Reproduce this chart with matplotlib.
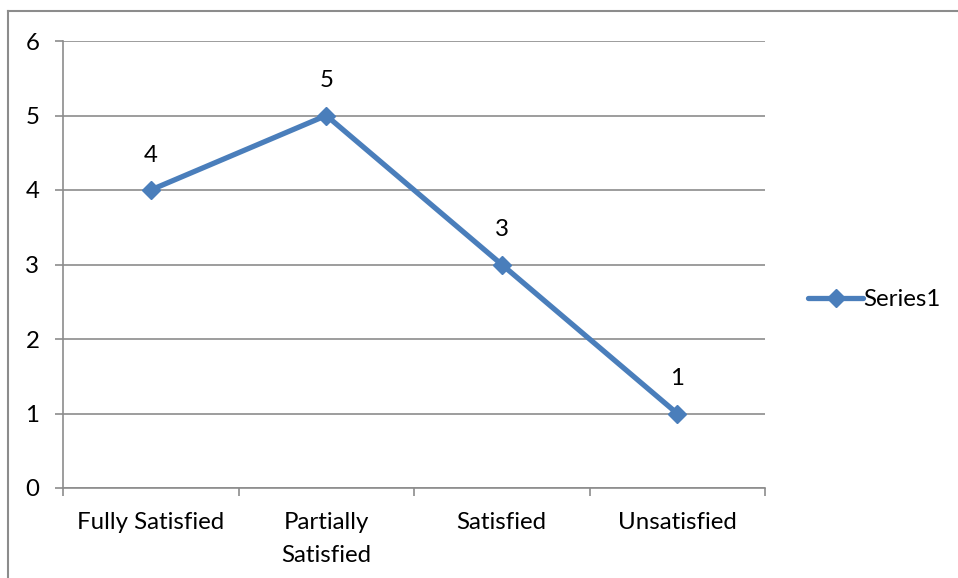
import matplotlib
matplotlib.use("Agg")
import matplotlib.pyplot as plt
from matplotlib.lines import Line2D

categories = ["Fully Satisfied", "Partially\nSatisfied", "Satisfied", "Unsatisfied"]
values = [4, 5, 3, 1]
series_name = "Series1"
y_ticks = [0, 1, 2, 3, 4, 5, 6]

plt.rcParams['font.family'] = ['Lato', 'DejaVu Sans']
FS = 17.3

W, H = 958, 578
fig = plt.figure(figsize=(W / 100, H / 100), dpi=100)

# outer chart frame (only the top and left edges fall inside the image)
frame_col = "#8c8c8c"
fig.add_artist(Line2D([8 / W, 8 / W], [0, 1 - 11 / H], color=frame_col, lw=1.5,
                      transform=fig.transFigure))
fig.add_artist(Line2D([8 / W, 1], [1 - 11 / H, 1 - 11 / H], color=frame_col, lw=1.5,
                      transform=fig.transFigure))

left, right, top, bottom = 63, 765, 41, 488
ax = fig.add_axes([left / W, 1 - bottom / H, (right - left) / W, (bottom - top) / H])

line_col = "#4a7ebb"
grid_col = "#8c8c8c"
x = list(range(len(categories)))
ax.plot(x, values, color=line_col, lw=3.8, marker="D", markersize=9.5,
        markerfacecolor=line_col, markeredgecolor=line_col, label=series_name,
        solid_capstyle="round", clip_on=False)

for xi, v in zip(x, values):
    ax.annotate(str(v), (xi, v), xytext=(0, 25), textcoords="offset points",
                ha="center", va="center", fontsize=FS, color="black")

ax.set_xlim(-0.5, len(categories) - 0.5)
ax.set_ylim(0, 6)
ax.set_yticks(y_ticks)
ax.set_yticklabels([str(t) for t in y_ticks], fontsize=FS)
ax.yaxis.grid(True, color=grid_col, lw=1.2)
ax.set_axisbelow(True)

# category ticks sit between categories; labels at centers
ax.set_xticks([i - 0.5 for i in range(len(categories) + 1)])
ax.set_xticklabels([])
ax.set_xticks(x, minor=True)
ax.set_xticklabels(categories, minor=True, fontsize=FS, linespacing=1.75)
ax.tick_params(axis="x", which="minor", length=0, pad=17)
ax.tick_params(axis="x", which="major", length=6, color=grid_col, width=1.2)
ax.tick_params(axis="y", length=6, color=grid_col, width=1.2, pad=11)

for s in ["top", "right"]:
    ax.spines[s].set_visible(False)
for s in ["left", "bottom"]:
    ax.spines[s].set_color(grid_col)
    ax.spines[s].set_linewidth(1.2)

leg = fig.legend(handles=ax.get_lines(), loc="center left",
                 bbox_to_anchor=(796 / W, 1 - 300 / H), frameon=False,
                 fontsize=FS, handlelength=2.3, handletextpad=0.0, borderpad=0)
for t in leg.get_texts():
    t.set_color("black")

fig.savefig("out.png", dpi=100, facecolor="white")
